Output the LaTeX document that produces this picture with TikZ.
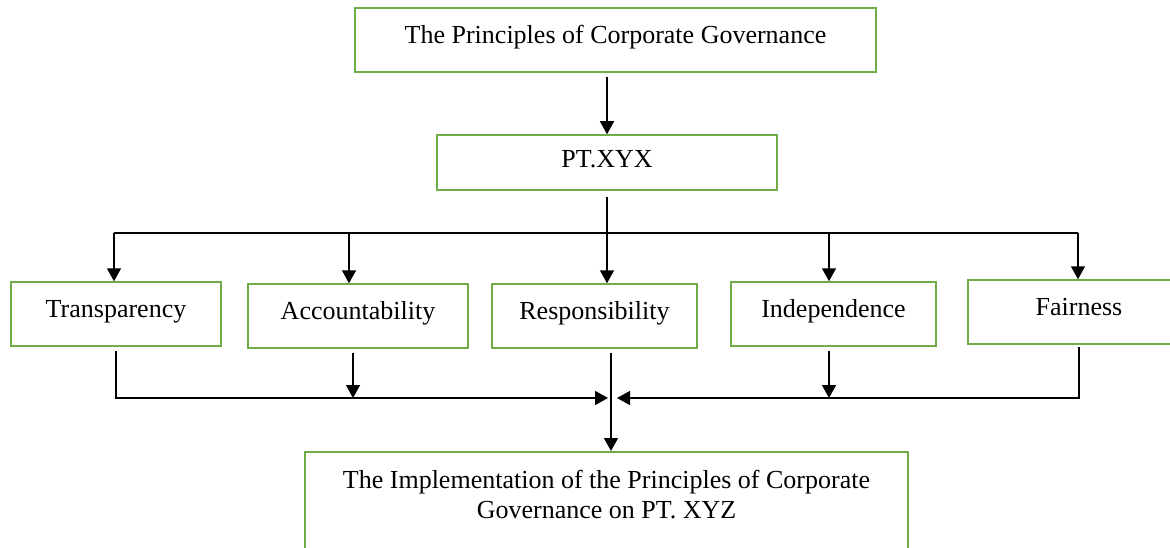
\documentclass[tikz,border=0pt]{standalone}
\usepackage{fontspec}
\setmainfont{Liberation Serif}
\usetikzlibrary{arrows.meta}
\definecolor{boxgreen}{RGB}{112,173,71}

\begin{document}
\begin{tikzpicture}[x=1pt,y=-1pt,
    box/.style={draw=boxgreen, line width=1.5pt, rectangle, inner ysep=0pt,
        font=\fontsize{26}{30}\selectfont},
    rowbox/.style={box, text height=35pt, text depth=29pt},
    line/.style={line width=1.5pt},
    arr/.style={line, -{Triangle[length=13pt,width=14pt]}}]
    \useasboundingbox (0,0) rectangle (1170,548);
    \clip (0,0) rectangle (1170,548);

    % top of the chart
    \node[box, minimum width=521pt, text height=36pt, text depth=28pt] (gov) at (615.5,40) {The Principles of Corporate Governance};
    \node[box, minimum width=340pt, text height=33pt, text depth=22pt] (pt) at (607,162.5) {PT.XYX};

    % the five principles
    \node[rowbox, minimum width=210pt] (transp) at (116,314) {Transparency};
    \node[rowbox, minimum width=220pt] (account) at (358,316) {Accountability};
    \node[rowbox, minimum width=205pt] (resp) at (594.5,316) {Responsibility};
    \node[rowbox, minimum width=205pt] (indep) at (833.5,314) {Independence};
    \node[rowbox, minimum width=222pt] (fair) at (1079,312) {Fairness};

    % result
    \node[box, anchor=north, minimum width=603pt, text width=590pt, align=flush center,
        text height=37pt, text depth=100pt] (impl) at (606.5,451)
        {The Implementation of the Principles of Corporate\\Governance on PT. XYZ};

    % down from the principles
    \draw[arr, shorten <=4pt] (pt.north |- gov.south) -- (pt.north);
    \draw[arr, shorten <=6pt] (pt.south) -- (resp.north -| pt.south);

    \coordinate (busL) at (114,233);
    \coordinate (busR) at (1078,233);
    \draw[line] (busL) -- (busR);
    \draw[arr] (busL) -- (transp.north -| busL);
    \draw[arr] ([xshift=-9pt]account.north |- busL) -- ([xshift=-9pt]account.north);
    \draw[arr] ([xshift=-4.5pt]indep.north |- busL) -- ([xshift=-4.5pt]indep.north);
    \draw[arr] (busR) -- (fair.north -| busR);

    % back together into the result
    \coordinate (join) at (611,398);
    \draw[arr, shorten <=4pt] (transp.south) |- ([xshift=-3pt]join);
    \draw[arr, shorten <=4pt] ([xshift=-5pt]account.south) -- ([xshift=-5pt]account.south |- join);
    \draw[arr, shorten <=4pt] ([xshift=-4.5pt]indep.south) -- ([xshift=-4.5pt]indep.south |- join);
    \draw[arr, shorten <=2pt] (fair.south) |- ([xshift=6pt]join);
    \draw[arr, shorten <=4pt] (resp.south -| join) -- (impl.north -| join);
\end{tikzpicture}
\end{document}
